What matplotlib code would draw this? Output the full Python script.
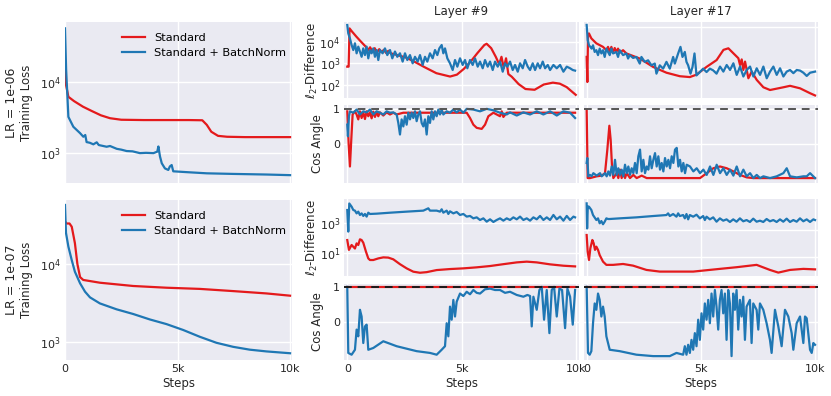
import matplotlib
matplotlib.use('Agg')
import matplotlib.pyplot as plt
from matplotlib.ticker import FixedLocator, NullLocator

# ---------------- data ----------------
# Training loss, LR = 1e-06
tl_std_steps = [0, 50, 150, 400, 800, 1200, 1600, 2000, 2500, 3500, 4500, 5500, 6100, 6300, 6500, 6800, 7200, 8000, 9000, 10000]
tl_std_loss = [16000, 9000, 6200, 5400, 4500, 3900, 3400, 3100, 2950, 2920, 2920, 2920, 2900, 2500, 2000, 1750, 1700, 1680, 1680, 1680]
tl_bn_steps = [0, 50, 150, 370, 670, 815, 900, 960, 1100, 1260, 1410, 1500, 1850, 2000, 2300, 2500, 2740, 3000, 3330, 3600,
               3930, 4100, 4150, 4220, 4300, 4440, 4590, 4660, 4740, 4810, 5410, 6300, 7480, 8960, 10000]
tl_bn_loss = [57000, 15000, 3240, 2350, 1910, 1700, 1800, 1430, 1400, 1330, 1420, 1300, 1230, 1260, 1150, 1120, 1070, 1060, 1000, 1010,
              1000, 1050, 1240, 900, 720, 610, 580, 650, 680, 555, 540, 520, 510, 500, 490]

# Training loss, LR = 1e-07
bl_std_steps = [0, 74, 200, 300, 440, 550, 670, 810, 1550, 3030, 4510, 5990, 7470, 8950, 10000]
bl_std_loss = [35000, 33000, 33000, 30000, 18500, 10000, 6800, 6250, 5760, 5230, 4970, 4800, 4500, 4200, 3930]
bl_bn_steps = [0, 44, 150, 300, 440, 670, 890, 1110, 1550, 2290, 3030, 3770, 4510, 5250, 5990, 6730, 7470, 8210, 8950, 10000]
bl_bn_loss = [57000, 25000, 16700, 11200, 7960, 5660, 4420, 3740, 3130, 2630, 2290, 1950, 1700, 1430, 1170, 980, 870, 800, 760, 720]

# Layer #9, LR = 1e-06: l2 difference
l9a_std_steps = [0, 60, 100, 200, 400, 600, 800, 900, 1000, 1100, 1200, 1300, 1400, 1500, 1600, 1700, 1800, 1900, 2200, 2600,
                 3000, 3400, 3900, 4500, 4800, 5100, 5400, 5700, 6000, 6100, 6300, 6500, 6650, 6750, 6850, 6950, 7050, 7200, 7500, 7800,
                 8200, 8600, 9000, 9300, 9600, 10000]
l9a_std_l2 = [700, 700, 41000, 30000, 17000, 10000, 6000, 4000, 5500, 3500, 5000, 3200, 4500, 3300, 4200, 3000, 3800, 2900, 2400, 1800,
              1100, 650, 350, 245, 300, 550, 1200, 3000, 7000, 8000, 5000, 2000, 900, 2000, 600, 1700, 320, 240, 110, 65,
              60, 105, 128, 115, 80, 35]
l9a_bn_steps = [0, 44, 117, 190, 263, 336, 409, 482, 555, 628, 700, 774, 847, 920, 993, 1066, 1139, 1212, 1285, 1358,
                1431, 1548, 1650, 1752, 1870, 1971, 2088, 2190, 2307, 2424, 2526, 2628, 2745, 2862, 2964, 3081, 3183, 3300, 3402, 3504,
                3621, 3738, 3840, 3942, 4030, 4132, 4205, 4278, 4380, 4497, 4614, 4716, 4818, 4935, 5052, 5154, 5256, 5373, 5490, 5592,
                5709, 5811, 5928, 6030, 6147, 6249, 6366, 6468, 6585, 6687, 6804, 6906, 7008, 7125, 7242, 7344, 7461, 7563, 7680, 7782,
                7899, 8001, 8118, 8220, 8337, 8439, 8556, 8658, 8775, 8877, 9023, 9169, 9315, 9461, 9607, 9753, 9870, 9972]
l9a_bn_l2 = [59000, 24000, 14000, 7000, 4100, 8400, 2900, 5900, 3500, 2000, 4900, 2400, 5900, 1700, 4100, 2900, 4900, 2000, 4100, 1420,
             4100, 2900, 4900, 2400, 4100, 1700, 3500, 2000, 2900, 1200, 2900, 1420, 2400, 1000, 2000, 1200, 2400, 840, 2000, 1200,
             2900, 1700, 4100, 2400, 4900, 7000, 2900, 4900, 1700, 1000, 490, 1420, 700, 1700, 840, 1420, 590, 1420, 840, 1700,
             700, 1200, 590, 1420, 700, 1200, 490, 1200, 700, 1200, 410, 1000, 700, 1200, 490, 840, 410, 1000, 590, 1420,
             700, 490, 1000, 490, 1000, 590, 1200, 590, 840, 490, 840, 590, 840, 410, 700, 590, 490, 460]

# Layer #9, LR = 1e-06: cos angle
l9a_std_csteps = [0, 58, 117, 175, 234, 336, 409, 482, 555, 628, 701, 774, 847, 920, 993, 1066, 1139, 1212, 1285, 1358,
                  1431, 1577, 1723, 1869, 2015, 2161, 2453, 5227, 5373, 5519, 5665, 5884, 6030, 6176, 6395, 6687, 6760, 6833, 6979, 9972]
l9a_std_cos = [0.93, 0.03, -0.64, 0.12, 0.84, 0.93, 0.84, 0.70, 0.93, 0.74, 0.90, 0.71, 0.93, 0.79, 0.90, 0.73, 0.92, 0.77, 0.91, 0.79,
               0.90, 0.81, 0.90, 0.84, 0.89, 0.84, 0.89, 0.89, 0.74, 0.55, 0.46, 0.43, 0.55, 0.79, 0.89, 0.79, 0.93, 0.77, 0.89, 0.89]
l9a_bn_csteps = [0, 29, 73, 117, 263, 409, 555, 701, 847, 993, 1139, 1285, 1431, 1577, 1723, 1869, 2015, 2161, 2234, 2307,
                 2380, 2453, 2526, 2599, 2672, 2745, 2818, 2891, 2964, 3037, 3110, 3183, 3256, 3329, 3402, 3475, 3548, 3621, 3694, 3767,
                 3840, 3913, 3986, 4059, 4132, 4205, 4351, 4497, 4643, 4789, 4935, 5081, 5227, 5519, 5811, 6103, 6395, 6687, 6979, 7125,
                 7417, 7709, 8001, 8293, 8585, 8877, 9169, 9461, 9753, 9972]
l9a_bn_cos = [0.55, 0.22, 0.79, 0.93, 0.89, 0.98, 0.84, 0.93, 0.90, 0.98, 0.84, 0.93, 0.89, 0.84, 0.93, 0.89, 0.90, 0.84, 0.60, 0.27,
              0.70, 0.50, 0.79, 0.55, 0.89, 0.70, 0.89, 0.74, 0.93, 0.65, 0.84, 0.93, 0.60, 0.50, 0.70, 0.27, 0.79, 0.60, 0.93, 0.70,
              0.93, 0.79, 0.98, 0.84, 0.98, 0.84, 0.93, 0.89, 0.98, 0.90, 0.98, 0.89, 1.0, 0.98, 0.93, 1.0, 0.96, 0.89, 0.84, 0.90,
              0.81, 0.90, 0.84, 0.93, 0.84, 0.93, 0.81, 0.93, 0.89, 0.74]

# Layer #17, LR = 1e-06: l2 difference
l17a_std_steps = [0, 30, 60, 100, 205, 424, 716, 863, 936, 1009, 1082, 1155, 1228, 1301, 1374, 1447, 1594, 1740, 2325, 2910,
                  3494, 4079, 4518, 4810, 5249, 5690, 5990, 6205, 6424, 6643, 6716, 6789, 6862, 6935, 7081, 7227, 7446, 7738, 8030, 8614,
                  8906, 9344, 9782, 10000]
l17a_std_l2 = [1900, 480, 6300, 6900, 5250, 4000, 3300, 2750, 3300, 2500, 3300, 2400, 3100, 2500, 3000, 2400, 2750, 2300, 1740, 1100,
               800, 660, 630, 720, 1100, 1600, 2800, 3050, 2320, 1770, 1220, 1660, 930, 1470, 590, 850, 540, 360, 310, 360,
               390, 340, 260, 230]
l17a_bn_steps = [0, 44, 102, 161, 219, 278, 351, 424, 497, 570, 643, 716, 789, 863, 936, 1009, 1082, 1155, 1301, 1374,
                 1447, 1594, 1740, 1813, 1886, 2032, 2178, 2325, 2398, 2544, 2690, 2836, 2982, 3056, 3202, 3348, 3494, 3640, 3787, 3860,
                 4006, 4108, 4196, 4298, 4371, 4444, 4547, 4635, 4722, 4810, 4956, 5102, 5249, 5395, 5541, 5687,
                 5840, 5986, 6132, 6278, 6424, 6570, 6716, 6862, 7008, 7154, 7300, 7446, 7592, 7738, 7884, 8030, 8176, 8322, 8468, 8614,
                 8760, 8906, 9052, 9198, 9344, 9490, 9636, 9782, 10000]
l17a_bn_l2 = [11000, 4800, 3600, 3300, 3000, 3600, 2500, 2750, 2100, 3000, 2300, 2750, 1900, 3000, 2500, 2100, 3000, 2300, 2500, 1900,
              2750, 2100, 2300, 1740, 2100, 1800, 1900, 1320, 1900, 1450, 1580, 1200, 1320, 760, 1200, 1000, 1450, 1000, 1900, 1320,
              2300, 3300, 1900, 2500, 1450, 1200, 760, 1100, 2300, 690, 830, 1000, 830, 1000, 910, 760,
              1120, 850, 1220, 930, 1340, 710, 1120, 650, 930, 1120, 650, 1020, 710, 1120, 590, 850, 1120, 710, 1020, 650,
              850, 930, 780, 930, 900, 800, 670, 800, 850]

# Layer #17, LR = 1e-06: cos angle
l17a_std_csteps = [0, 44, 146, 438, 657, 803, 905, 993, 1051, 1110, 1168, 1314, 1387, 1460, 1533, 1606, 1679, 1752, 1898, 2044,
                   2190, 2409, 2628, 3650, 4964, 5256, 5548, 5840, 6132, 6424, 6716, 7008, 7300, 10000]
l17a_std_cos = [0.98, -0.97, -0.97, -0.92, -0.90, -0.83, -0.16, 0.52, 0.12, -0.64, -0.97, -0.83, -0.97, -0.73, -0.97, -0.78, -0.97, -0.83, -0.97, -0.88,
                -0.97, -0.90, -0.97, -0.97, -0.97, -0.83, -0.69, -0.64, -0.69, -0.78, -0.88, -0.95, -0.97, -0.97]
l17a_bn_csteps = [0, 29, 73, 146, 219, 292, 438, 584, 657, 730, 803, 876, 949, 1022, 1095, 1168, 1241, 1314, 1387, 1460,
                  1533, 1606, 1679, 1752, 1825, 1898, 1971, 2044, 2117, 2190, 2263, 2336, 2409, 2482, 2555, 2628, 2701, 2774, 2847, 2920,
                  2993, 3066, 3139, 3212, 3285, 3358, 3431, 3504, 3577, 3650, 3723, 3796, 3869, 3942, 4015, 4088, 4161, 4234, 4307, 4380,
                  4526, 4672, 4818, 4964, 5110, 5256, 5402, 5548, 5694, 5840, 5986, 6132, 6278, 6424, 6570, 6716, 6862, 7008, 7154, 7300,
                  7446, 7592, 7738, 8030, 8322, 8614, 8760, 8906, 9198, 9490, 9636, 9782, 10000]
l17a_bn_cos = [-0.54, -0.40, -0.92, -0.88, -0.92, -0.83, -0.90, -0.83, -0.92, -0.88, -0.83, -0.92, -0.78, -0.90, -0.64, -0.88, -0.45, -0.88, -0.69, -0.88,
               -0.73, -0.92, -0.59, -0.83, -0.64, -0.88, -0.69, -0.83, -0.54, -0.83, -0.35, -0.16, -0.78, -0.45, -0.83, -0.64, -0.73, -0.35, -0.69, -0.45,
               -0.26, -0.64, -0.35, -0.73, -0.54, -0.78, -0.40, -0.64, -0.45, -0.69, -0.35, -0.54, -0.16, -0.11, -0.64, -0.45, -0.78, -0.54, -0.83, -0.59,
               -0.64, -0.78, -0.69, -0.83, -0.73, -0.88, -0.64, -0.88, -0.59, -0.83, -0.69, -0.88, -0.73, -0.90, -0.64, -0.92, -0.73, -0.92, -0.83, -0.97,
               -0.88, -0.97, -0.92, -0.97, -0.92, -0.83, -0.69, -0.92, -0.95, -0.92, -0.92, -0.83, -0.97]

# Layer #9, LR = 1e-07: l2 difference
l9b_std_steps = [0, 73, 190, 336, 409, 482, 555, 628, 701, 818, 920, 993, 1139, 1358, 1577, 1796, 2015, 2307, 2599, 2891,
                 3183, 3475, 3913, 4497, 5081, 5665, 6249, 6833, 7417, 7855, 8293, 8877, 9461, 9972]
l9b_std_l2 = [77, 17, 36, 21, 46, 36, 86, 77, 51, 13, 4.6, 3.6, 3.6, 4.6, 5.4, 5.2, 4.0, 1.9, 1.0, 0.6,
              0.51, 0.56, 0.77, 0.9, 1.0, 1.17, 1.43, 1.9, 2.5, 2.8, 2.5, 1.85, 1.5, 1.35]
l9b_bn_steps = [0, 44, 88, 190, 263, 336, 409, 482, 555, 628, 701, 774, 847, 920, 993, 1285, 1869, 2599, 3329, 3548,
                3621, 3913, 4059, 4132, 4205, 4351, 4424, 4497, 4643, 4789, 4935, 5081, 5227, 5373, 5519, 5665, 5811, 5957, 6103, 6249,
                6395, 6541, 6687, 6833, 6979, 7125, 7271, 7417, 7563, 7709, 7855, 8001, 8147, 8293, 8439, 8585, 8731, 8877, 9023, 9169,
                9315, 9461, 9607, 9753, 9899, 9972]
l9b_bn_l2 = [7700, 280, 21000, 12900, 7700, 7000, 4600, 6000, 3600, 4600, 3100, 4200, 2800, 5100, 4200, 4400, 5100, 6000, 7000, 10000,
             7000, 7000, 6000, 8600, 5100, 7000, 4200, 6300, 4600, 5700, 3600, 4200, 2800, 3100, 2150, 2500, 1670, 2150, 1290, 1850,
             1230, 1670, 2150, 1510, 2150, 1670, 2500, 1850, 2800, 1670, 2150, 1510, 2500, 1850, 3100, 1670, 2500, 1670, 3600, 1850,
             2800, 1510, 3100, 1670, 2800, 2500]

# Layer #9, LR = 1e-07: cos angle
l9b_std_csteps = [0, 10000]
l9b_std_cos = [1.0, 1.0]
l9b_bn_csteps = [0, 44, 190, 336, 409, 482, 555, 628, 701, 774, 847, 920, 1139, 1577, 2161, 3037, 3621, 3913, 4132, 4278,
                 4351, 4424, 4497, 4570, 4643, 4716, 4789, 4935, 5081, 5227, 5373, 5519, 5665, 5811, 6030, 6249, 6468, 6687, 6906, 7125,
                 7417, 7709, 7884, 8001, 8074, 8147, 8293, 8410, 8512, 8614, 8731, 8848, 8950, 9052, 9169, 9286, 9402, 9534, 9636, 9753,
                 9870, 9972]
l9b_bn_cos = [1.0, -0.87, -0.92, -0.78, -0.21, -0.40, 0.35, 0.16, -0.59, -0.12, -0.07, -0.78, -0.73, -0.54, -0.68, -0.82, -0.87, -0.92, -0.78, -0.68,
              -0.03, -0.40, 0.44, 0.07, 0.63, 0.16, 0.58, 0.81, 0.74, 0.86, 0.79, 0.91, 0.83, 0.81, 0.93, 0.95, 0.91, 0.91, 0.83, 0.86,
              0.77, 0.72, 0.77, 0.74, -0.12, 0.72, 0.35, 0.91, 1.0, 0.07, 0.91, -0.31, 0.91, 1.0, 0.16, 0.95, 0.91, -0.17, 0.95, 0.72,
              -0.07, 0.91]

# Layer #17, LR = 1e-07: l2 difference
l17b_std_steps = [0, 44, 102, 161, 249, 307, 365, 424, 497, 570, 716, 863, 1155, 1594, 2032, 2617, 3202, 4664, 5833, 6564,
                  7442, 8026, 8392, 8904, 9488, 10000]
l17b_std_l2 = [420, 24, 5.6, 42, 178, 100, 32, 56, 32, 13, 4.2, 2.4, 2.4, 2.8, 2.1, 1.0, 0.75, 0.75, 1.2, 1.6,
               2.4, 1.0, 0.63, 1.0, 1.2, 1.1]
l17b_bn_steps = [0, 20, 50, 102, 205, 278, 424, 497, 570, 643, 716, 789, 863, 936, 1009, 1447, 2178, 2909,
                 3494, 3567, 3640, 3787, 3933, 4006, 4079, 4225, 4298, 4371, 4444, 4518, 4664, 4810, 4956, 5102, 5175, 5249, 5395, 5541,
                 5687, 5833, 5980, 6126, 6272, 6418, 6564, 6711, 6857, 7003, 7149, 7295, 7442, 7588, 7734, 7880, 8026, 8173, 8319, 8465,
                 8611, 8757, 8904, 9050, 9196, 9342, 9488, 9635, 9781, 9927, 10000]
l17b_bn_l2 = [100000, 1300, 60000, 56000, 32000, 13300, 5600, 7500, 3200, 4700, 2700, 4200, 7500, 6700, 6700, 7500, 8900, 11200,
              13300, 17800, 11200, 15800, 10000, 17800, 11200, 13300, 7500, 15800, 6300, 13300, 10000, 14100, 7500, 11200, 5600, 10000, 6300, 8900,
              4200, 7500, 5000, 6300, 4000, 6300, 4200, 7500, 4500, 5600, 4000, 7100, 4200, 5000, 4000, 6700, 4500, 5600, 4000, 6300,
              4200, 7100, 4000, 5600, 4200, 7500, 4500, 6300, 4000, 6300, 5600]

# Layer #17, LR = 1e-07: cos angle
l17b_std_csteps = [0, 10000]
l17b_std_cos = [1.0, 1.0]
l17b_bn_csteps = [0, 58, 132, 205, 278, 351, 424, 497, 570, 643, 716, 789, 863, 1009, 1447, 2178, 2909, 3640, 3933, 4225,
                  4298, 4371, 4444, 4518, 4591, 4664, 4737, 4810, 4883, 4956, 5029, 5102, 5175, 5249, 5322, 5395, 5468, 5541, 5614, 5687,
                  5760, 5833, 5906, 5980, 6053, 6126, 6199, 6272, 6345, 6418, 6491, 6564, 6637, 6711, 6784, 6857, 6930, 7003, 7149, 7222,
                  7295, 7442, 7515, 7588, 7734, 7880, 8026, 8099, 8246, 8392, 8538, 8684, 8830, 8977, 9050, 9196, 9342, 9488, 9561, 9635,
                  9781, 9854, 9927, 10000]
l17b_bn_cos = [1.0, -0.87, -0.92, -0.82, -0.03, 0.53, 0.35, 0.81, 0.63, 0.16, 0.44, 0.16, -0.40, -0.78, -0.82, -0.92, -0.96, -0.96, -0.87, -0.92,
               -0.68, -0.92, -0.64, -0.87, -0.50, -0.78, -0.31, -0.68, 0.07, -0.50, 0.25, -0.21, 0.53, 0.07, 0.63, -0.03, 0.81, 0.16, 0.91, 0.44,
               -0.21, 0.63, 0.91, 0.25, 0.81, -0.50, 0.91, 0.53, -0.96, 0.81, 0.35, 0.91, -0.21, 0.63, 0.16, 0.72, -0.50, 0.44, 0.63, -0.59,
               0.53, 0.35, -0.21, 0.53, 0.35, -0.03, -0.50, -0.87, 0.35, -0.12, -0.68, 0.35, 0.16, -0.31, -0.78, -0.03, 0.16, -0.59, 0.16, 0.11,
               -0.78, -0.87, -0.59, -0.64]

series_labels = ['Standard', 'Standard + BatchNorm']
row_labels = ['LR = 1e-06', 'LR = 1e-07']
col_titles = ['Layer #9', 'Layer #17']
x_ticks = [0, 5000, 10000]
x_ticklabels = ['0', '5k', '10k']

# ---------------- style ----------------
RED = '#e41a1c'
BLUE = '#1f77b4'
BG = '#eaeaf2'
TXT = '#262626'
LW = 1.6
FS = 8.5
TFS = 8

plt.rcParams['font.family'] = ['DejaVu Sans']
plt.rcParams['mathtext.fontset'] = 'dejavusans'

W, H = 831, 396
fig = plt.figure(figsize=(W / 100, H / 100), dpi=100)


def add_ax(x0, y0, x1, y1):
    return fig.add_axes([x0 / W, 1 - y1 / H, (x1 - x0) / W, (y1 - y0) / H])


def style(ax, xlim, show_x):
    ax.set_facecolor(BG)
    for s in ax.spines.values():
        s.set_visible(False)
    ax.grid(True, color='white', linewidth=1.0, zorder=0)
    ax.set_axisbelow(True)
    ax.tick_params(length=0, labelsize=TFS, labelcolor=TXT, pad=3)
    ax.set_xlim(*xlim)
    ax.xaxis.set_major_locator(FixedLocator(x_ticks))
    if show_x:
        ax.set_xticklabels(x_ticklabels)
        ax.set_xlabel('Steps', fontsize=FS, color=TXT, labelpad=2)
    else:
        ax.set_xticklabels([])


def log_y(ax, ticks, lim, show):
    ax.set_yscale('log')
    ax.set_ylim(*lim)
    ax.yaxis.set_major_locator(FixedLocator(ticks))
    ax.yaxis.set_minor_locator(NullLocator())
    if not show:
        ax.set_yticklabels([])


XL_LEFT = (0, 10100)
XL_MID = (-130, 10130)

# column x extents (pixels)
LC = (65, 292.3)
MC = (344.3, 578.7)
RC = (583.7, 818)

rows = [
    dict(loss_y=(22, 183), l2_y=(22, 98), cos_y=(105, 183),
         std=(tl_std_steps, tl_std_loss), bn=(tl_bn_steps, tl_bn_loss), loss_lim=(380, 70000),
         l9=((l9a_std_steps, l9a_std_l2), (l9a_bn_steps, l9a_bn_l2), (l9a_std_csteps, l9a_std_cos), (l9a_bn_csteps, l9a_bn_cos)),
         l17=((l17a_std_steps, l17a_std_l2), (l17a_bn_steps, l17a_bn_l2), (l17a_std_csteps, l17a_std_cos), (l17a_bn_csteps, l17a_bn_cos)),
         l9_ticks=[100, 1000, 10000], l9_lim=(25, 81000),
         l17_ticks=[1000, 10000], l17_lim=(200, 12900),
         cos_lim=(-1.11, 1.11), dash='#555555'),
    dict(loss_y=(200, 360), l2_y=(199, 276), cos_y=(284, 360),
         std=(bl_std_steps, bl_std_loss), bn=(bl_bn_steps, bl_bn_loss), loss_lim=(590, 66000),
         l9=((l9b_std_steps, l9b_std_l2), (l9b_bn_steps, l9b_bn_l2), (l9b_std_csteps, l9b_std_cos), (l9b_bn_csteps, l9b_bn_cos)),
         l17=((l17b_std_steps, l17b_std_l2), (l17b_bn_steps, l17b_bn_l2), (l17b_std_csteps, l17b_std_cos), (l17b_bn_csteps, l17b_bn_cos)),
         l9_ticks=[10, 1000], l9_lim=(0.31, 41700),
         l17_ticks=[10, 1000], l17_lim=(0.35, 213000),
         cos_lim=(-1.07, 1.08), dash='#1a1a1a'),
]

for r, row in enumerate(rows):
    bottom = (r == 1)
    # loss panel
    ax = add_ax(LC[0], row['loss_y'][0], LC[1], row['loss_y'][1])
    style(ax, XL_LEFT, bottom)
    ax.plot(*row['std'], color=RED, lw=LW, label=series_labels[0], zorder=3)
    ax.plot(*row['bn'], color=BLUE, lw=LW, label=series_labels[1], zorder=3)
    log_y(ax, [1000, 10000], row['loss_lim'], True)
    ax.set_ylabel('Training Loss', fontsize=FS, color=TXT)
    ax.yaxis.set_label_coords(-0.14, 0.5)
    ax.legend(loc='upper right', bbox_to_anchor=(1.0, 0.968), frameon=False, fontsize=8.2,
              handlelength=2.0, borderaxespad=0.15, labelspacing=0.4, borderpad=0.4)
    ymid = 1 - (row['loss_y'][0] + row['loss_y'][1]) / 2 / H
    fig.text(12 / W, ymid, row_labels[r], rotation=90, fontsize=9, color=TXT,
             ha='center', va='center')

    for c, (key, cx) in enumerate([('l9', MC), ('l17', RC)]):
        (s_l2, b_l2, s_cos, b_cos) = row[key]
        ax1 = add_ax(cx[0], row['l2_y'][0], cx[1], row['l2_y'][1])
        style(ax1, XL_MID, False)
        ax1.plot(*s_l2, color=RED, lw=LW, zorder=3)
        ax1.plot(*b_l2, color=BLUE, lw=LW, zorder=3)
        log_y(ax1, row[key + '_ticks'], row[key + '_lim'], c == 0)
        if c == 0:
            ax1.set_ylabel(r'$\ell_2$-Difference', fontsize=FS, color=TXT)
            ax1.yaxis.set_label_coords(-0.105, 0.5)
        if r == 0:
            ax1.set_title(col_titles[c], fontsize=FS, color=TXT, pad=5)

        ax2 = add_ax(cx[0], row['cos_y'][0], cx[1], row['cos_y'][1])
        style(ax2, XL_MID, bottom)
        ax2.plot(*s_cos, color=RED, lw=LW, zorder=3)
        ax2.plot(*b_cos, color=BLUE, lw=LW, zorder=3)
        ax2.axhline(1.0, color=row['dash'], lw=1.4, ls=(0, (4, 3)), zorder=4)
        ax2.set_ylim(*row['cos_lim'])
        ax2.yaxis.set_major_locator(FixedLocator([0, 1]))
        if c == 0:
            ax2.set_yticklabels(['0', '1'])
            ax2.set_ylabel('Cos Angle', fontsize=FS, color=TXT)
            ax2.yaxis.set_label_coords(-0.085, 0.5)
        else:
            ax2.set_yticklabels([])

fig.savefig('out.png', dpi=100, facecolor='white')
